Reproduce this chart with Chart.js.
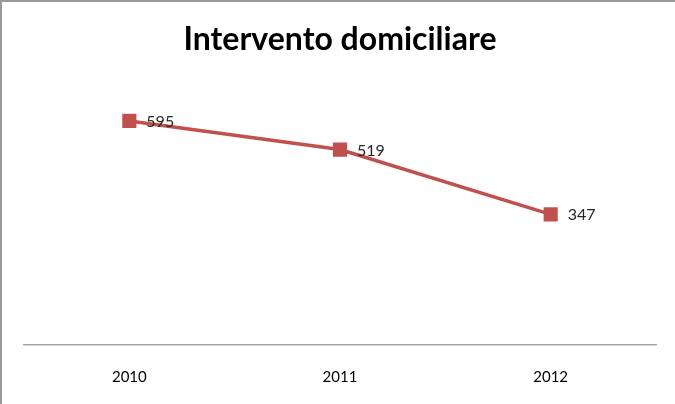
<!DOCTYPE html>
<html>
<head>
<meta charset="utf-8">
<script src="https://cdn.jsdelivr.net/npm/chart.js@4.4.1/dist/chart.umd.min.js"></script>
<style>
    html, body { margin: 0; padding: 0; background: #fff; }
    #cornice {
        position: relative;
        width: 675px;
        height: 404px;
        box-sizing: border-box;
        border-left: 2px solid #9a9a9a;
        border-top: 2px solid #9a9a9a;
    }
    #cornice canvas { position: absolute; left: -2px; top: -2px; }
</style>
</head>
<body>
<div id="cornice">
    <canvas id="graficoDomiciliare" width="675" height="404"></canvas>
</div>
<script>
// Dati del grafico
const anni = ['2010', '2011', '2012'];
const interventi = [595, 519, 347];
const titoloGrafico = 'Intervento domiciliare';

const coloreSerie = '#C0504D';
const fontTesto = "'Lato', sans-serif";

// Etichette dei valori a destra di ogni punto
const etichetteValori = {
    id: 'etichetteValori',
    afterDatasetsDraw(chart) {
        const ctx = chart.ctx;
        const meta = chart.getDatasetMeta(0);
        ctx.save();
        ctx.font = '16px ' + fontTesto;
        ctx.fillStyle = '#262626';
        ctx.textAlign = 'left';
        ctx.textBaseline = 'middle';
        meta.data.forEach((punto, i) => {
            ctx.fillText(String(interventi[i]), punto.x + 17, punto.y + 1);
        });
        ctx.restore();
    }
};

const ctx = document.getElementById('graficoDomiciliare').getContext('2d');
new Chart(ctx, {
    type: 'line',
    data: {
        labels: anni,
        datasets: [{
            label: titoloGrafico,
            data: interventi,
            borderColor: coloreSerie,
            backgroundColor: coloreSerie,
            borderWidth: 3.5,
            pointStyle: 'rect',
            pointRadius: 10,
            pointHoverRadius: 10,
            pointBorderWidth: 0,
            tension: 0,
            fill: false
        }]
    },
    options: {
        responsive: false,
        animation: false,
        events: [],
        layout: { padding: { left: 24, right: 19, top: 20, bottom: -5 } },
        plugins: {
            legend: { display: false },
            tooltip: { enabled: false },
            title: {
                display: true,
                text: titoloGrafico,
                color: '#000',
                font: { family: fontTesto, size: 32, weight: 'bold' },
                padding: { top: 0, bottom: 23 }
            }
        },
        scales: {
            x: {
                offset: true,
                grid: { display: false, drawTicks: false },
                border: { display: true, color: '#a6a6a6', width: 1.5 },
                ticks: {
                    color: '#000',
                    padding: 23,
                    font: { family: fontTesto, size: 15 }
                }
            },
            y: {
                display: false,
                min: 0,
                max: 700
            }
        }
    },
    plugins: [etichetteValori]
});
</script>
</body>
</html>
